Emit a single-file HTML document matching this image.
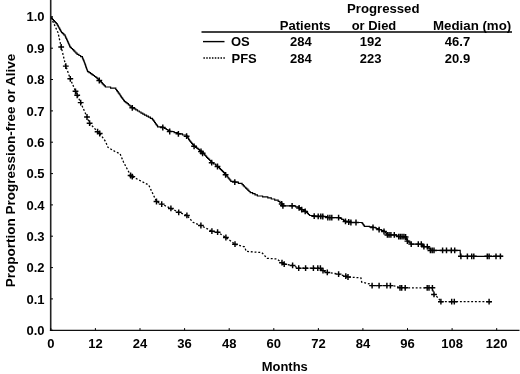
<!DOCTYPE html>
<html><head><meta charset="utf-8"><title>Survival</title>
<style>
html,body{margin:0;padding:0;background:#fff;}
body{width:520px;height:374px;overflow:hidden;}
svg{display:block;will-change:transform;opacity:0.999;}
text{font-family:"Liberation Sans",sans-serif;font-weight:bold;font-size:13px;fill:#000;}
</style></head><body>
<svg width="520" height="374" viewBox="0 0 520 374">
<rect width="520" height="374" fill="#fff"/>
<g fill="none" stroke="#000">
<path d="M50.7,0V330.9" stroke-width="1.6" stroke="#222"/><path d="M49.9,330.3H519.5" stroke-width="1.25" stroke="#111"/>
<path d="M50.8,330.3h2.2M50.8,298.9h2.2M50.8,267.6h2.2M50.8,236.2h2.2M50.8,204.9h2.2M50.8,173.6h2.2M50.8,142.2h2.2M50.8,110.9h2.2M50.8,79.5h2.2M50.8,48.2h2.2M50.8,16.8h2.2M50.8,330.3v-2.2M95.4,330.3v-2.2M140.0,330.3v-2.2M184.6,330.3v-2.2M229.2,330.3v-2.2M273.8,330.3v-2.2M318.4,330.3v-2.2M362.9,330.3v-2.2M407.5,330.3v-2.2M452.1,330.3v-2.2M496.7,330.3v-2.2" stroke-width="1"/>
<path d="M201.5,32H512" stroke-width="1.5"/>
<path d="M203,41.6H224.5" stroke-width="1.4"/>
<path d="M203.4,57.9H225.2" stroke-width="1.45" stroke-dasharray="1.5,1.35"/>
<path d="M51.2,17.2H51.9V18.4H52.5V19.5H53.4V20.6H54.4V21.6H55.3V22.7H56.3V23.7H57.2V24.8H57.8V25.9H58.4V27.0H59.0V28.1H59.7V29.3H60.3V30.4H60.9V31.5H61.5V32.6H62.7V33.7H63.8V34.9H65.0V36.0H65.5V37.1H66.0V38.3H66.6V39.4H67.1V40.6H67.6V41.7H68.1V42.8H68.6V44.0H69.2V45.1H69.7V46.3H70.2V47.4H71.3V48.5H72.5V49.7H73.7V50.8H74.8V52.0H75.9V53.1H77.1V54.3H78.9V55.5H80.6V56.6H82.4V57.8H82.8V58.8H83.2V59.9H83.7V60.9H84.1V62.0H84.5V63.0H84.9V64.1H85.3V65.2H85.7V66.3H86.0V67.3H86.4V68.4H86.8V69.5H87.2V70.6H87.6V71.7H89.0V72.7H90.5V73.6H91.9V74.6H93.2V75.5H94.5V76.5H95.8V77.4H97.0V78.4H98.1V79.5H99.3V80.5H100.3V81.6H101.3V82.7H102.3V83.8H103.4V84.8H104.4V85.9H105.4V87.0H110.6V88.2H115.8V89.5H116.6V90.6H117.4V91.7H118.2V92.8H119.0V93.9H119.8V95.0H120.5V96.2H121.3V97.3H122.1V98.4H122.9V99.5H123.7V100.6H124.5V101.7H125.8V102.7H127.1V103.7H128.4V104.8H129.7V105.8H131.0V106.8H132.3V107.8H134.0V108.9H135.8V109.9H137.5V111.0H139.3V112.0H141.0V113.1H142.8V114.1H144.5V115.2H146.5V116.2H148.4V117.2H150.4V118.3H152.4V119.3H153.1V120.4H153.9V121.4H154.6V122.5H155.4V123.6H156.1V124.7H156.9V125.7H157.6V126.8H162.8V127.5H164.5V128.5H166.2V129.5H168.0V130.5H169.7V131.5H174.1V132.7H178.4V133.8H182.5V135.0H186.6V136.2H187.3V137.2H188.0V138.2H188.6V139.3H189.3V140.3H190.0V141.3H190.8V142.3H191.6V143.3H192.5V144.3H193.3V145.3H194.1V146.3H195.5V147.3H196.9V148.4H198.2V149.4H199.6V150.5H201.0V151.5H202.3V152.8H203.6V154.0H204.6V155.1H205.6V156.2H206.6V157.3H207.6V158.3H208.7V159.4H209.7V160.5H210.7V161.6H211.7V162.7H213.6V164.0H215.6V165.2H217.5V166.5H218.5V167.5H219.5V168.6H220.5V169.6H221.6V170.7H222.6V171.7H223.6V172.7H224.6V173.8H225.6V174.8H226.5V175.9H227.3V177.0H228.2V178.1H229.1V179.1H229.9V180.2H230.8V181.3H234.8V182.1H238.4V183.4H242.1V184.7H243.3V185.8H244.4V187.0H245.6V188.1H246.7V189.2H247.9V190.3H249.0V191.5H250.2V192.6H252.6V193.7H255.0V194.9H257.4V196.0H262.6V196.9H267.8V197.8H271.3V199.0H274.7V200.1H278.2V201.3H279.9V202.6H281.7V203.9H282.3V204.9H282.9V205.8L292.1,205.8H295.6V206.9H299.1V207.9H300.4V208.8H301.7V209.6H303.4V210.5H305.2V211.4H306.3V212.4H307.4V213.4H308.4V214.5H309.5V215.5H314.7V216.2H323.4V216.5H327.8V217.6L338.6,217.6H340.1V218.4H341.7V219.3H343.6V220.4H345.5V221.4H350.9V222.5H361.7V222.8H362.6V224.0H363.4V225.1H364.3V226.3H369.5V226.8H373.0V227.5H376.1V228.6H379.1V229.6H381.6V230.6H384.0V231.5H385.6V233.0H386.5V233.9H387.4V234.9L394.3,234.9H396.5V235.8H398.7V236.6H405.6V237.0H406.1V238.0H406.5V239.1H406.9V240.1H407.4V241.1H408.7V242.1H409.9V243.1H411.2V244.1L421.3,244.1H422.6V245.4H423.9V246.7L427.3,246.7H428.1V247.8H429.0V248.8H430.8V250.4L458.7,250.4H460.2V252.0L460.4,256.3L503.0,256.3" stroke-width="1.2"/>
<path d="M51.2,17.5 L52.0,19.6 L58.0,32.6 L61.2,47.0 L65.8,66.1 L70.3,78.8 L75.5,91.3 L77.2,95.3 L80.7,102.6 L87.0,117.0 L89.6,123.2 L97.6,131.7 L99.7,133.5 L105.4,141.3 L108.0,147.4 L115.0,151.5 L120.0,153.6 L123.5,162.0 L130.6,175.5 L132.3,176.6 L148.7,185.0 L156.5,201.5 L161.7,204.1 L170.9,208.4 L178.7,212.3 L186.9,215.4 L193.0,222.3 L200.9,225.5 L211.9,231.2 L217.6,232.2 L225.9,237.5 L235.0,244.2 L244.5,246.8 L246.3,251.4 L261.9,252.6 L267.1,258.3 L276.8,259.0 L282.0,262.7 L284.2,264.2 L292.6,265.4 L298.7,268.2 L320.4,268.2 L323.0,270.6 L327.3,272.4 L338.6,274.1 L345.8,276.2 L348.0,277.0 L360.9,277.9 L361.7,282.1 L369.5,283.9 L372.1,285.6 L390.4,285.6 L395.6,286.1 L400.0,287.8 L432.2,287.8 L434.0,294.4 L437.8,297.4 L440.9,301.7 L491.3,301.7" stroke-width="1.3" stroke-dasharray="1.9,1.85"/>
<path d="M96.4,80.5h5.8M99.3,77.6v5.8M129.4,107.8h5.8M132.3,104.9v5.8M159.9,127.5h5.8M162.8,124.6v5.8M166.8,131.5h5.8M169.7,128.6v5.8M175.5,133.8h5.8M178.4,130.9v5.8M183.7,136.2h5.8M186.6,133.3v5.8M191.2,146.3h5.8M194.1,143.4v5.8M198.1,151.5h5.8M201.0,148.6v5.8M199.7,153.3h5.8M202.6,150.4v5.8M208.8,162.7h5.8M211.7,159.8v5.8M214.6,166.5h5.8M217.5,163.6v5.8M222.7,174.8h5.8M225.6,171.9v5.8M231.9,182.1h5.8M234.8,179.2v5.8M278.8,203.9h5.8M281.7,201.0v5.8M280.0,205.8h5.8M282.9,202.9v5.8M289.2,205.8h5.8M292.1,202.9v5.8M296.2,207.9h5.8M299.1,205.0v5.8M298.8,209.6h5.8M301.7,206.7v5.8M302.3,211.4h5.8M305.2,208.5v5.8M311.3,216.2h5.8M314.2,213.3v5.8M315.3,216.4h5.8M318.2,213.5v5.8M317.9,216.4h5.8M320.8,213.5v5.8M319.9,216.5h5.8M322.8,213.6v5.8M324.9,217.6h5.8M327.8,214.7v5.8M327.0,217.6h5.8M329.9,214.7v5.8M328.9,217.6h5.8M331.8,214.7v5.8M335.7,217.6h5.8M338.6,214.7v5.8M342.6,221.4h5.8M345.5,218.5v5.8M345.8,222.0h5.8M348.7,219.1v5.8M348.0,222.5h5.8M350.9,219.6v5.8M353.1,222.5h5.8M356.0,219.6v5.8M370.1,227.5h5.8M373.0,224.6v5.8M376.2,229.6h5.8M379.1,226.7v5.8M381.1,231.5h5.8M384.0,228.6v5.8M384.5,234.9h5.8M387.4,232.0v5.8M386.2,234.9h5.8M389.1,232.0v5.8M388.0,234.9h5.8M390.9,232.0v5.8M391.4,234.9h5.8M394.3,232.0v5.8M395.8,236.6h5.8M398.7,233.7v5.8M397.5,236.6h5.8M400.4,233.7v5.8M399.2,236.6h5.8M402.1,233.7v5.8M401.0,236.6h5.8M403.9,233.7v5.8M402.7,237.0h5.8M405.6,234.1v5.8M404.5,241.1h5.8M407.4,238.2v5.8M408.3,244.1h5.8M411.2,241.2v5.8M415.4,244.1h5.8M418.3,241.2v5.8M418.4,244.1h5.8M421.3,241.2v5.8M421.0,246.7h5.8M423.9,243.8v5.8M424.4,246.7h5.8M427.3,243.8v5.8M427.5,250.4h5.8M430.4,247.5v5.8M429.3,250.4h5.8M432.2,247.5v5.8M431.1,250.4h5.8M434.0,247.5v5.8M439.7,250.4h5.8M442.6,247.5v5.8M443.6,250.4h5.8M446.5,247.5v5.8M448.4,250.4h5.8M451.3,247.5v5.8M451.8,250.4h5.8M454.7,247.5v5.8M458.0,256.3h5.8M460.9,253.4v5.8M464.5,256.3h5.8M467.4,253.4v5.8M468.8,256.3h5.8M471.7,253.4v5.8M470.9,256.3h5.8M473.8,253.4v5.8M484.4,256.3h5.8M487.3,253.4v5.8M486.2,256.3h5.8M489.1,253.4v5.8M493.1,256.3h5.8M496.0,253.4v5.8M497.5,256.3h5.8M500.4,253.4v5.8" stroke-width="1.45"/>
<path d="M58.3,47.0h5.8M61.2,44.1v5.8M62.9,66.1h5.8M65.8,63.2v5.8M67.4,78.8h5.8M70.3,75.9v5.8M72.6,91.3h5.8M75.5,88.4v5.8M74.3,95.3h5.8M77.2,92.4v5.8M77.8,102.6h5.8M80.7,99.7v5.8M84.1,117.0h5.8M87.0,114.1v5.8M86.7,123.2h5.8M89.6,120.3v5.8M94.7,131.7h5.8M97.6,128.8v5.8M96.8,133.5h5.8M99.7,130.6v5.8M127.7,175.5h5.8M130.6,172.6v5.8M129.4,176.6h5.8M132.3,173.7v5.8M153.6,201.5h5.8M156.5,198.6v5.8M158.8,204.1h5.8M161.7,201.2v5.8M168.0,208.4h5.8M170.9,205.5v5.8M175.8,212.3h5.8M178.7,209.4v5.8M184.0,215.4h5.8M186.9,212.5v5.8M198.0,225.5h5.8M200.9,222.6v5.8M209.0,231.2h5.8M211.9,228.3v5.8M214.7,232.2h5.8M217.6,229.3v5.8M223.0,237.5h5.8M225.9,234.6v5.8M232.1,244.2h5.8M235.0,241.3v5.8M279.1,262.7h5.8M282.0,259.8v5.8M281.3,264.2h5.8M284.2,261.3v5.8M289.7,265.4h5.8M292.6,262.5v5.8M295.8,268.2h5.8M298.7,265.3v5.8M302.7,268.2h5.8M305.6,265.3v5.8M310.5,268.2h5.8M313.4,265.3v5.8M314.9,268.2h5.8M317.8,265.3v5.8M317.5,268.2h5.8M320.4,265.3v5.8M320.1,270.6h5.8M323.0,267.7v5.8M324.4,272.4h5.8M327.3,269.5v5.8M335.7,274.1h5.8M338.6,271.2v5.8M342.9,276.2h5.8M345.8,273.3v5.8M345.1,277.0h5.8M348.0,274.1v5.8M369.2,285.6h5.8M372.1,282.7v5.8M376.2,285.6h5.8M379.1,282.7v5.8M384.0,285.6h5.8M386.9,282.7v5.8M387.5,285.6h5.8M390.4,282.7v5.8M397.1,287.8h5.8M400.0,284.9v5.8M398.8,287.8h5.8M401.7,284.9v5.8M402.3,287.8h5.8M405.2,284.9v5.8M424.3,287.8h5.8M427.2,284.9v5.8M426.1,287.8h5.8M429.0,284.9v5.8M429.5,287.8h5.8M432.4,284.9v5.8M431.1,294.4h5.8M434.0,291.5v5.8M438.0,301.7h5.8M440.9,298.8v5.8M448.8,301.7h5.8M451.7,298.8v5.8M451.4,301.7h5.8M454.3,298.8v5.8M486.2,301.7h5.8M489.1,298.8v5.8" stroke-width="1.45"/>
</g>
<g><text x="44.5" y="334.9" text-anchor="end">0.0</text><text x="44.5" y="303.6" text-anchor="end">0.1</text><text x="44.5" y="272.2" text-anchor="end">0.2</text><text x="44.5" y="240.8" text-anchor="end">0.3</text><text x="44.5" y="209.5" text-anchor="end">0.4</text><text x="44.5" y="178.2" text-anchor="end">0.5</text><text x="44.5" y="146.8" text-anchor="end">0.6</text><text x="44.5" y="115.5" text-anchor="end">0.7</text><text x="44.5" y="84.1" text-anchor="end">0.8</text><text x="44.5" y="52.8" text-anchor="end">0.9</text><text x="44.5" y="21.4" text-anchor="end">1.0</text><text x="50.8" y="348.1" text-anchor="middle">0</text><text x="95.4" y="348.1" text-anchor="middle">12</text><text x="140.0" y="348.1" text-anchor="middle">24</text><text x="184.6" y="348.1" text-anchor="middle">36</text><text x="229.2" y="348.1" text-anchor="middle">48</text><text x="273.8" y="348.1" text-anchor="middle">60</text><text x="318.4" y="348.1" text-anchor="middle">72</text><text x="362.9" y="348.1" text-anchor="middle">84</text><text x="407.5" y="348.1" text-anchor="middle">96</text><text x="452.1" y="348.1" text-anchor="middle">108</text><text x="496.7" y="348.1" text-anchor="middle">120</text></g>
<text x="279.8" y="29.6" textLength="50.8" lengthAdjust="spacingAndGlyphs">Patients</text>
<text x="347" y="13.4" textLength="72.5" lengthAdjust="spacingAndGlyphs">Progressed</text>
<text x="351.7" y="29.6" textLength="44.6" lengthAdjust="spacingAndGlyphs">or Died</text>
<text x="433" y="29.6" textLength="78.2" lengthAdjust="spacingAndGlyphs">Median (mo)</text>
<text x="231" y="46.2">OS</text>
<text x="231.5" y="62.5">PFS</text>
<text x="300.8" y="46.2" text-anchor="middle">284</text>
<text x="300.8" y="62.5" text-anchor="middle">284</text>
<text x="370.6" y="46.2" text-anchor="middle">192</text>
<text x="370.6" y="62.5" text-anchor="middle">223</text>
<text x="457.5" y="46.2" text-anchor="middle">46.7</text>
<text x="457.5" y="62.5" text-anchor="middle">20.9</text>
<text x="261.7" y="370.9" textLength="46.1" lengthAdjust="spacingAndGlyphs">Months</text>
<text transform="translate(14.5,287.3) rotate(-90)" textLength="233.5" lengthAdjust="spacingAndGlyphs" style="font-size:13.4px">Proportion Progression-free or Alive</text>
</svg>
</body></html>
